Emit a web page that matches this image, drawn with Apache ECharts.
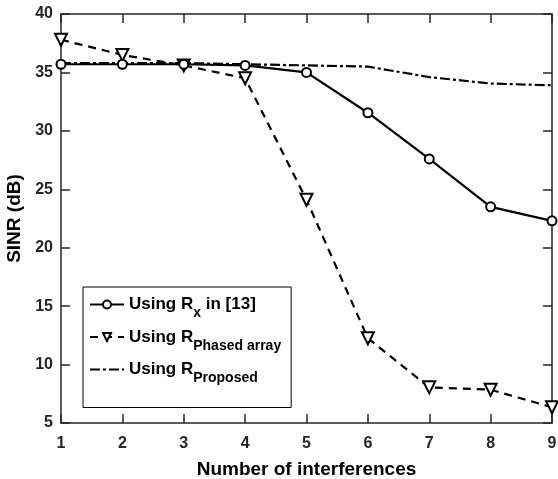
<!DOCTYPE html>
<html>
<head>
<meta charset="utf-8">
<script src="https://cdn.jsdelivr.net/npm/echarts@6/dist/echarts.min.js"></script>
<style>
  html, body { margin: 0; padding: 0; background: #fff; }
  #main { width: 558px; height: 479px; }
</style>
</head>
<body>
<div id="main"></div>
<script>
  // values
  var xValues = [1, 2, 3, 4, 5, 6, 7, 8, 9]
  var rxValues = [35.7, 35.7, 35.7, 35.6, 35.0, 31.55, 27.6, 23.5, 22.3]
  var phasedValues = [37.8, 36.5, 35.6, 34.5, 24.1, 12.25, 8.05, 7.85, 6.35]
  var proposedValues = [35.8, 35.8, 35.8, 35.7, 35.6, 35.5, 34.6, 34.05, 33.9]
  var seriesNames = ['rx', 'phased', 'proposed']
  var legendLabels = {
    rx: '{m|Using R}{s|x}{m| in [13]}',
    phased: '{m|Using R}{s|Phased array}',
    proposed: '{m|Using R}{s|Proposed}'
  }

  function pairs (ys) {
    return xValues.map(function (x, i) { return [x, ys[i]] })
  }

  var ink = '#262626'
  var chart = echarts.init(document.getElementById('main'))

  var axisCommon = {
    axisLine: { show: true, lineStyle: { color: ink, width: 1.5 } },
    axisTick: { show: true, inside: true, length: 9, lineStyle: { color: ink, width: 1.5 } },
    splitLine: { show: false }
  }
  var labelFont = { fontFamily: 'Liberation Sans', fontWeight: 'bold', fontSize: 16, color: ink }
  var titleFont = { fontFamily: 'Liberation Sans', fontWeight: 'bold', fontSize: 19, color: '#000' }

  chart.setOption({
    animation: false,
    backgroundColor: '#fff',
    grid: { left: 61, right: 6, top: 14, bottom: 56, outerBoundsMode: 'none', containLabel: false },
    legend: {
      data: [
        { name: seriesNames[0] },
        { name: seriesNames[1] },
        { name: seriesNames[2], itemStyle: { opacity: 0 } }
      ],
      orient: 'vertical',
      left: 83,
      top: 287,
      backgroundColor: '#fff',
      borderColor: '#000',
      borderWidth: 1,
      borderRadius: 0,
      padding: [9, 10, 22, 6],
      itemGap: 8,
      itemWidth: 34,
      itemHeight: 10,
      formatter: function (name) { return legendLabels[name] },
      textStyle: {
        rich: {
          m: { fontFamily: 'Liberation Sans', fontWeight: 'bold', fontSize: 17, color: '#000', lineHeight: 20 },
          s: { fontFamily: 'Liberation Sans', fontWeight: 'bold', fontSize: 14, color: '#000', lineHeight: 32, verticalAlign: 'bottom' }
        }
      }
    },
    xAxis: [
      Object.assign({
        type: 'value', min: 1, max: 9, interval: 1,
        name: 'Number of interferences',
        nameLocation: 'middle',
        nameGap: 37,
        nameTextStyle: titleFont,
        axisLabel: Object.assign({ margin: 13 }, labelFont)
      }, axisCommon),
      Object.assign({
        type: 'value', min: 1, max: 9, interval: 1, position: 'top',
        axisLabel: { show: false }
      }, axisCommon)
    ],
    yAxis: [
      Object.assign({
        type: 'value', min: 5, max: 40, interval: 5,
        name: 'SINR (dB)',
        nameLocation: 'middle',
        nameGap: 33,
        nameTextStyle: titleFont,
        axisLabel: Object.assign({ margin: 8 }, labelFont)
      }, axisCommon),
      Object.assign({
        type: 'value', min: 5, max: 40, interval: 5, position: 'right',
        axisLabel: { show: false }
      }, axisCommon)
    ],
    series: [
      {
        name: seriesNames[0],
        type: 'line',
        data: pairs(rxValues),
        symbol: 'circle',
        symbolSize: 9,
        lineStyle: { color: '#000', width: 2.2, type: 'solid' },
        itemStyle: { color: '#fff', borderColor: '#000', borderWidth: 2 },
        z: 3
      },
      {
        name: seriesNames[1],
        type: 'line',
        data: pairs(phasedValues),
        symbol: 'triangle',
        symbolRotate: 180,
        symbolSize: 12,
        lineStyle: { color: '#000', width: 2.2, type: [8, 6] },
        itemStyle: { color: '#fff', borderColor: '#000', borderWidth: 2 },
        z: 2
      },
      {
        name: seriesNames[2],
        type: 'line',
        data: pairs(proposedValues),
        symbol: 'none',
        lineStyle: { color: '#000', width: 2.2, type: [10, 3, 3, 3] },
        itemStyle: { color: '#000' },
        z: 1
      }
    ]
  })
</script>
</body>
</html>
